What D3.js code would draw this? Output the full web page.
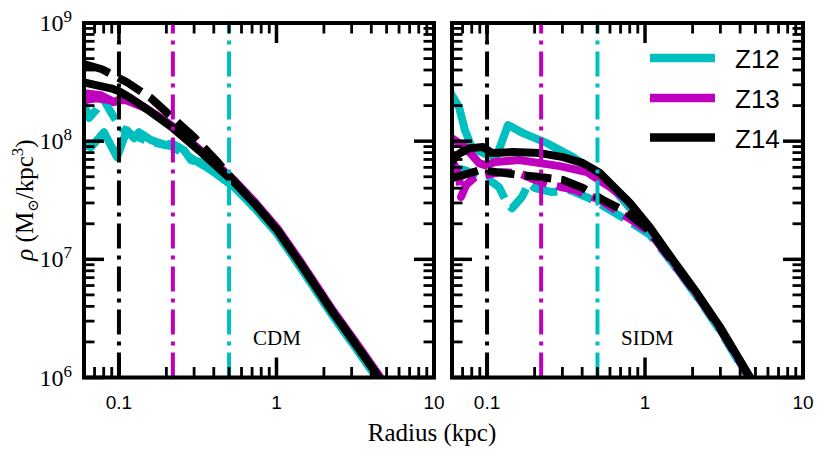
<!DOCTYPE html>
<html><head><meta charset="utf-8">
<script src="https://cdn.jsdelivr.net/npm/d3@7"></script>
<style>body{margin:0;background:#fff}svg{display:block}</style>
</head><body>
<svg id="c" width="830" height="462"></svg>
<script>
// ---------- data (radius kpc, density Msun/kpc^3) ----------
const simNames = ["Z12", "Z13", "Z14"];
const simColors = ["#00bfbf", "#bf00bf", "#000000"];
const resolutionRadii = [0.5, 0.22, 0.1]; // Z12, Z13, Z14
const panelLabels = ["CDM", "SIDM"];
const xTickLabels = ["0.1", "1", "10"];
const xTickValues = [0.1, 1, 10];
const yTickValues = [1e6, 1e7, 1e8, 1e9];
const yTickExponents = ["6", "7", "8", "9"];

const cdmZ12Solid = [[0.06,9.3e7],[0.0665,8.9e7],[0.0804,1.19e8],[0.0972,7.33e7],[0.1125,1.24e8],[0.1246,1.06e8],[0.134,1.19e8],[0.16,1.02e8],[0.199,9.25e7],[0.217,9.6e7],[0.259,8.4e7],[0.287,6.9e7],[0.332,6.65e7],[0.384,5.69e7],[0.537,4.1e7],[0.731,2.7e7],[1.01,1.65e7],[1.41,8.65e6],[2.29,3.28e6],[3.2,1.76e6],[4.48,9.3e5],[5.5,6.0e5]];
const cdmZ12Dashed = [[0.06,2.06e8],[0.0645,1.57e8],[0.0715,1.83e8],[0.0792,2.3e8],[0.089,1.76e8],[0.1,1.36e8],[0.1125,1.17e8],[0.16,9.8e7],[0.214,9.1e7],[0.287,7.2e7],[0.384,5.69e7],[0.537,4.15e7],[0.731,2.72e7],[1.01,1.66e7],[1.41,8.7e6],[2.29,3.3e6],[3.2,1.77e6],[4.48,9.4e5],[5.5,6.1e5]];
const cdmZ13Solid = [[0.06,2.55e8],[0.0769,2.45e8],[0.093,2.14e8],[0.111,2.4e8],[0.138,2.02e8],[0.185,1.57e8],[0.22,1.32e8],[0.332,8.3e7],[0.537,4.7e7],[0.731,3.04e7],[1.01,1.84e7],[1.41,9.7e6],[2.29,3.66e6],[3.2,1.97e6],[4.48,1.04e6],[5.5,6.7e5]];
const cdmZ13Dashed = [[0.06,2.22e8],[0.0715,2.31e8],[0.089,2.22e8],[0.111,2.22e8],[0.1486,1.9e8],[0.22,1.33e8],[0.332,8.2e7],[0.537,4.65e7],[0.731,3.0e7],[1.01,1.82e7],[1.41,9.6e6],[2.29,3.62e6],[3.2,1.95e6],[4.48,1.02e6],[5.5,6.6e5]];
const cdmZ14Solid = [[0.06,3.15e8],[0.0726,2.97e8],[0.089,2.8e8],[0.1,2.65e8],[0.119,2.31e8],[0.16,1.76e8],[0.22,1.29e8],[0.332,8.07e7],[0.537,4.51e7],[0.731,2.92e7],[1.01,1.77e7],[1.41,9.3e6],[2.29,3.52e6],[3.2,1.89e6],[4.48,1.0e6],[5.5,6.5e5]];
const cdmZ14Dashed = [[0.06,4.48e8],[0.078,4.06e8],[0.1125,3.15e8],[0.16,2.31e8],[0.22,1.57e8],[0.3,1.08e8],[0.413,6.9e7],[0.537,4.6e7],[0.731,2.95e7],[1.01,1.78e7],[1.41,9.35e6],[2.29,3.54e6],[3.2,1.9e6],[4.48,1.0e6],[5.5,6.5e5]];

const sidmZ12Solid = [[0.06,2.45e8],[0.0665,1.94e8],[0.0725,1.24e8],[0.0803,8.73e7],[0.1014,7.62e7],[0.1156,7.62e7],[0.1357,1.37e8],[0.1689,1.17e8],[0.2396,9.62e7],[0.35,7.33e7],[0.4966,5.37e7],[0.6646,3.64e7],[1.07,1.72e7],[1.5,9.3e6],[2.13,4.9e6],[2.98,2.55e6],[4.61,9.7e5],[5.5,6.6e5]];
const sidmZ12Dashed = [[0.06,6.03e7],[0.0725,5.69e7],[0.089,4.97e7],[0.1075,4.51e7],[0.119,4.09e7],[0.1337,2.99e7],[0.1438,2.7e7],[0.1664,3.37e7],[0.1843,4.42e7],[0.2012,4.01e7],[0.2577,3.71e7],[0.335,3.86e7],[0.4684,3.18e7],[0.7688,2.15e7],[1.07,1.62e7],[1.5,9.2e6],[2.13,4.85e6],[2.98,2.5e6],[4.61,9.5e5],[5.5,6.5e5]];
const sidmZ13Solid = [[0.06,1.06e8],[0.0725,8.91e7],[0.089,6.52e7],[0.0971,6.27e7],[0.1123,6.65e7],[0.1593,6.92e7],[0.2164,6.52e7],[0.2895,6.15e7],[0.4291,5.47e7],[0.6,4.09e7],[0.7688,3.18e7],[1.07,1.85e7],[1.5,9.7e6],[2.13,5.1e6],[2.98,2.65e6],[4.61,1.0e6],[5.5,6.9e5]];
const sidmZ13Dashed = [[0.06,6.92e7],[0.0665,5.16e7],[0.0684,3.37e7],[0.0736,4.25e7],[0.0839,4.97e7],[0.0971,5.16e7],[0.1244,5.47e7],[0.1593,5.37e7],[0.2012,4.69e7],[0.2577,4.25e7],[0.3603,3.86e7],[0.5188,3.18e7],[0.7688,2.28e7],[1.07,1.7e7],[1.5,9.4e6],[2.13,5.0e6],[2.98,2.6e6],[4.61,9.8e5],[5.5,6.7e5]];
const sidmZ14Solid = [[0.06,6.65e7],[0.0627,7.33e7],[0.0674,7.93e7],[0.078,8.73e7],[0.0943,8.91e7],[0.1075,7.93e7],[0.146,8.08e7],[0.2164,7.93e7],[0.3024,7.33e7],[0.4047,6.52e7],[0.5188,5.37e7],[0.6646,3.86e7],[0.8033,2.99e7],[1.07,1.88e7],[1.5,9.9e6],[2.13,5.2e6],[2.98,2.68e6],[4.61,1.01e6],[5.5,7.0e5]];
const sidmZ14Dashed = [[0.06,4.84e7],[0.0627,4.97e7],[0.0705,5.16e7],[0.0902,5.69e7],[0.1156,5.47e7],[0.1616,5.16e7],[0.2164,4.97e7],[0.3024,4.69e7],[0.4047,4.01e7],[0.5419,3.18e7],[0.7688,2.5e7],[1.07,1.75e7],[1.5,9.6e6],[2.13,5.1e6],[2.98,2.62e6],[4.61,1.0e6],[5.5,6.9e5]];

const cdmSeries = [[cdmZ12Solid, cdmZ12Dashed], [cdmZ13Solid, cdmZ13Dashed], [cdmZ14Solid, cdmZ14Dashed]];
const sidmSeries = [[sidmZ12Solid, sidmZ12Dashed], [sidmZ13Solid, sidmZ13Dashed], [sidmZ14Solid, sidmZ14Dashed]];

// ---------- layout ----------
const SERIF = "'Liberation Serif','DejaVu Serif',serif";
const SANS = "'Liberation Sans','DejaVu Sans',sans-serif";
const TOP = 23, BOTTOM = 377.5;
const panels = [
  {x0: 84, x1: 434, series: cdmSeries, label: panelLabels[0]},
  {x0: 452, x1: 803, series: sidmSeries, label: panelLabels[1]}
];
const svg = d3.select("#c");
const defs = svg.append("defs");

const xMinor = [];
[0.01, 0.1, 1].forEach(d => { for (let k = 2; k <= 9; k++) { const v = +(k * d).toPrecision(3); if (v > 0.06 && v < 10) xMinor.push(v); } });
const yMinor = [];
[1e6, 1e7, 1e8].forEach(d => { for (let k = 2; k <= 9; k++) yMinor.push(k * d); });

panels.forEach((p, pi) => {
  const x = d3.scaleLog().domain([0.06, 10]).range([p.x0, p.x1]);
  const y = d3.scaleLog().domain([1e6, 1e9]).range([BOTTOM, TOP]);
  defs.append("clipPath").attr("id", "clip" + pi).append("rect")
    .attr("x", p.x0).attr("y", TOP).attr("width", p.x1 - p.x0).attr("height", BOTTOM - TOP);
  const g = svg.append("g").attr("clip-path", `url(#clip${pi})`);
  const line = d3.line().x(d => x(d[0])).y(d => y(d[1]));
  p.series.forEach((pair, si) => {
    g.append("path").attr("d", line(pair[0])).attr("fill", "none")
      .attr("stroke", simColors[si]).attr("stroke-width", 8)
      .attr("stroke-linejoin", "round").attr("stroke-linecap", "square");
    g.append("path").attr("d", line(pair[1])).attr("fill", "none")
      .attr("stroke", simColors[si]).attr("stroke-width", 8)
      .attr("stroke-linejoin", "round").attr("stroke-linecap", "butt")
      .attr("stroke-dasharray", "27,10");
  });
  // resolution lines (drawn bottom to top)
  resolutionRadii.forEach((r, si) => {
    g.append("line").attr("x1", x(r)).attr("x2", x(r)).attr("y1", BOTTOM).attr("y2", TOP)
      .attr("stroke", simColors[si]).attr("stroke-width", 4)
      .attr("stroke-dasharray", "25,7,4,7");
  });
  // ticks
  const tk = svg.append("g").attr("stroke", "#000");
  const drawX = (vals, len, w) => vals.forEach(v => {
    tk.append("line").attr("x1", x(v)).attr("x2", x(v)).attr("y1", BOTTOM).attr("y2", BOTTOM - len).attr("stroke-width", w);
    tk.append("line").attr("x1", x(v)).attr("x2", x(v)).attr("y1", TOP).attr("y2", TOP + len).attr("stroke-width", w);
  });
  const drawY = (vals, len, w) => vals.forEach(v => {
    tk.append("line").attr("y1", y(v)).attr("y2", y(v)).attr("x1", p.x0).attr("x2", p.x0 + len).attr("stroke-width", w);
    tk.append("line").attr("y1", y(v)).attr("y2", y(v)).attr("x1", p.x1).attr("x2", p.x1 - len).attr("stroke-width", w);
  });
  drawX(xMinor, 10.5, 2.8);
  drawX(xTickValues, 20, 3.5);
  drawY(yMinor, 10.5, 2.8);
  drawY(yTickValues, 20, 3.5);
  // frame
  svg.append("rect").attr("x", p.x0).attr("y", TOP).attr("width", p.x1 - p.x0).attr("height", BOTTOM - TOP)
    .attr("fill", "none").attr("stroke", "#000").attr("stroke-width", 4);
  // x tick labels
  xTickValues.forEach((v, i) => {
    svg.append("text").attr("x", x(v)).attr("y", 409).attr("text-anchor", "middle")
      .attr("font-family", SANS).attr("font-size", 19).attr("fill", "#000").text(xTickLabels[i]);
  });
  // y tick labels (left panel only)
  if (pi === 0) {
    yTickValues.forEach((v, i) => {
      const t = svg.append("text").attr("x", 72).attr("y", y(v) + 8).attr("text-anchor", "end")
        .attr("font-family", SERIF).attr("font-size", 24).attr("fill", "#000");
      t.append("tspan").text("10");
      t.append("tspan").attr("font-size", 17).attr("dy", -9).text(yTickExponents[i]);
    });
  }
  // panel label
  svg.append("text").attr("x", p.x0 + 169).attr("y", 345).attr("font-family", SERIF)
    .attr("font-size", 21).attr("fill", "#000").text(p.label);
});

// axis titles
svg.append("text").attr("x", 432).attr("y", 441).attr("text-anchor", "middle")
  .attr("font-family", SERIF).attr("font-size", 25).attr("fill", "#000").text("Radius (kpc)");
const yl = svg.append("text").attr("transform", "translate(33,200) rotate(-90)").attr("text-anchor", "middle")
  .attr("font-family", SERIF).attr("font-size", 25).attr("fill", "#000");
yl.append("tspan").attr("font-style", "italic").text("ρ");
yl.append("tspan").text(" (M");
yl.append("tspan").attr("font-size", 15).attr("dy", 5).text("⊙");
yl.append("tspan").attr("dy", -5).text("/kpc");
yl.append("tspan").attr("font-size", 17).attr("dy", -10).text("3");
yl.append("tspan").attr("dy", 10).text(")");

// legend
const legendY = [58, 98, 137.5];
simNames.forEach((n, i) => {
  svg.append("line").attr("x1", 650).attr("x2", 715).attr("y1", legendY[i]).attr("y2", legendY[i])
    .attr("stroke", simColors[i]).attr("stroke-width", 8.5);
  svg.append("text").attr("x", 735).attr("y", legendY[i] + 10).attr("font-family", SANS)
    .attr("font-size", 26).attr("fill", "#000").text(n);
});
</script>
</body></html>
